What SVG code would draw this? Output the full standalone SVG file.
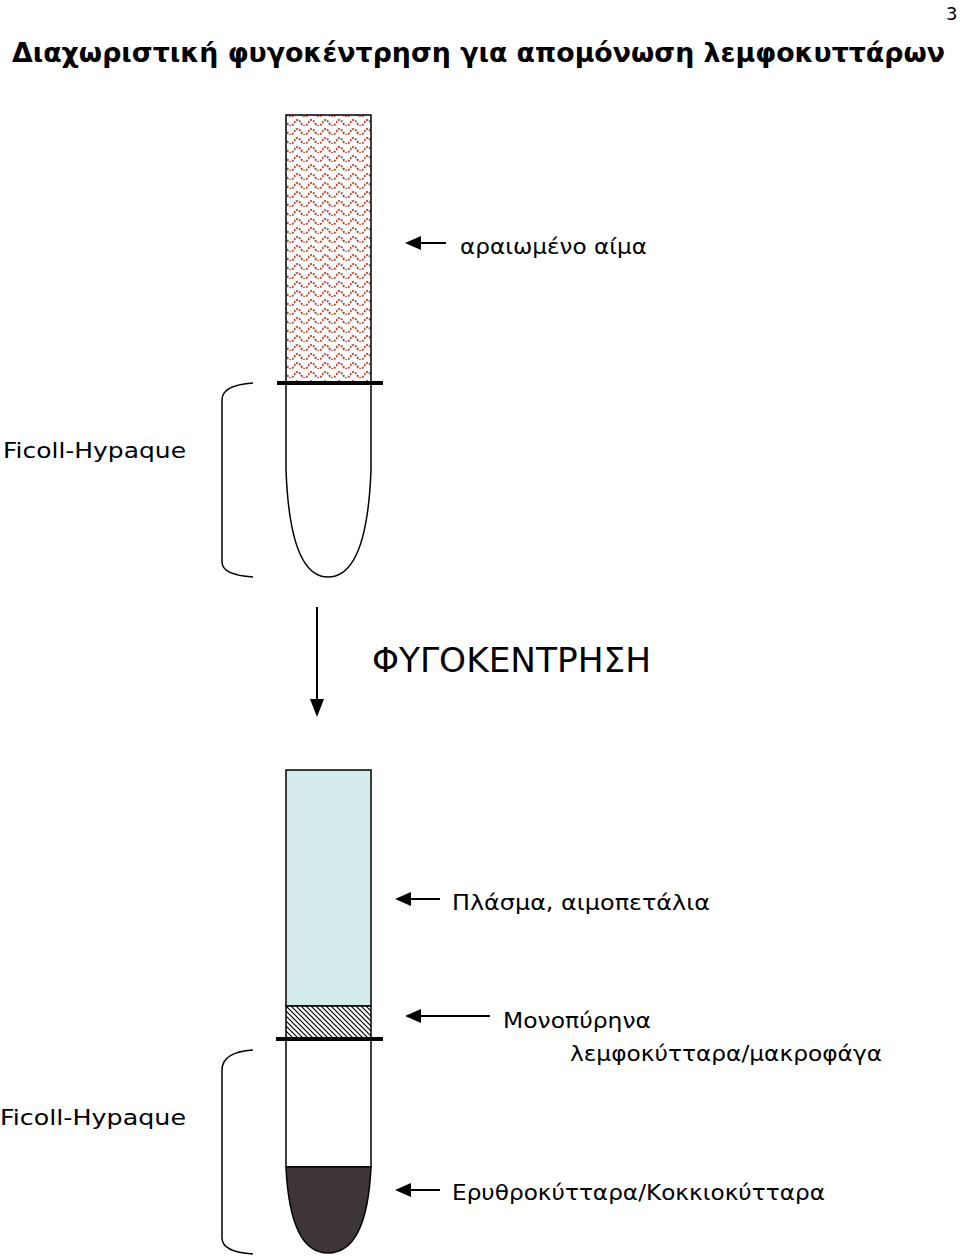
<svg xmlns="http://www.w3.org/2000/svg" width="960" height="1259" viewBox="0 0 960 1259">
<defs>
<pattern id="wave" width="14" height="9" patternUnits="userSpaceOnUse">
<rect width="14" height="9" fill="#fff"/>
<path d="M0 6 Q3.5 0 7 6 T14 6" fill="none" stroke="#c0452a" stroke-width="2" stroke-dasharray="2 1.2"/>
</pattern>
<pattern id="hatch" width="5" height="5" patternUnits="userSpaceOnUse">
<rect width="5" height="5" fill="#fff"/>
<path d="M-1 -1 L6 6 M-1 4 L1 6 M4 -1 L6 1" stroke="#000" stroke-width="1.2"/>
</pattern>
<path id="ahl" d="M0 0 L16 -7 L16 7Z"/>
</defs>
<style>
text{font-family:"DejaVu Sans","Liberation Sans",sans-serif;fill:#000}
.t{stroke:#000;stroke-width:1.5}
.line{stroke:#000;stroke-width:2}
.br{fill:none;stroke:#000;stroke-width:1.5}
</style>
<text x="12" y="62" font-size="27" font-weight="bold" textLength="933" lengthAdjust="spacingAndGlyphs">Διαχωριστική φυγοκέντρηση για απομόνωση λεμφοκυττάρων</text>
<text x="946" y="20" font-size="18">3</text>
<g id="tube1">
<rect x="286" y="115" width="85" height="268" fill="url(#wave)" class="t"/>
<path d="M286 383 L286 470 Q290 577 328 577 Q367 577 371 470 L371 383" fill="#fff" class="t"/>
<line x1="277" y1="383" x2="383" y2="383" stroke="#000" stroke-width="4"/>
<path class="br" d="M253 383 Q222 385 222 400 L222 562 Q222 575 253 577"/>
<text x="3" y="458" font-size="22" textLength="183" lengthAdjust="spacingAndGlyphs">Ficoll-Hypaque</text>
<text x="460" y="254" font-size="22" textLength="187" lengthAdjust="spacingAndGlyphs">αραιωμένο αίμα</text>
</g>
<g id="label-centrifuge"><text x="372" y="672" font-size="34" textLength="279" lengthAdjust="spacingAndGlyphs">ΦΥΓΟΚΕΝΤΡΗΣΗ</text></g>
<g id="tube2">
<rect x="286" y="770" width="85" height="236" fill="#d5ebeb" class="t"/>
<rect x="286" y="1006" width="85" height="33" fill="url(#hatch)" class="t"/>
<rect x="286" y="1039" width="85" height="128" fill="#fff" class="t"/>
<path d="M286 1167 Q290 1253 328 1253 Q367 1253 371 1167 Z" fill="#3e3537" class="t"/>
<line x1="276" y1="1039" x2="383" y2="1039" stroke="#000" stroke-width="4"/>
<path class="br" d="M253 1050 Q222 1052 222 1070 L222 1238 Q222 1252 253 1254"/>
<text x="0" y="1125" font-size="22" textLength="186" lengthAdjust="spacingAndGlyphs">Ficoll-Hypaque</text>
<text x="452" y="910" font-size="22" textLength="258" lengthAdjust="spacingAndGlyphs">Πλάσμα, αιμοπετάλια</text>
<text x="503" y="1028" font-size="22" textLength="148" lengthAdjust="spacingAndGlyphs">Μονοπύρηνα</text>
<text x="570" y="1061" font-size="22" textLength="312" lengthAdjust="spacingAndGlyphs">λεμφοκύτταρα/μακροφάγα</text>
<text x="452" y="1200" font-size="22" textLength="373" lengthAdjust="spacingAndGlyphs">Ερυθροκύτταρα/Κοκκιοκύτταρα</text>
</g>
<g id="connectors">
<line class="line" x1="446" y1="243" x2="415" y2="243"/><use href="#ahl" x="405" y="243"/>
<line class="line" x1="440" y1="899" x2="405" y2="899"/><use href="#ahl" x="395" y="899"/>
<line class="line" x1="490" y1="1016" x2="415" y2="1016"/><use href="#ahl" x="405" y="1016"/>
<line class="line" x1="440" y1="1190" x2="405" y2="1190"/><use href="#ahl" x="395" y="1190"/>
<line class="line" x1="317" y1="607" x2="317" y2="702"/>
<path d="M317 717 L310 699 L324 699Z"/>
</g>
</svg>
